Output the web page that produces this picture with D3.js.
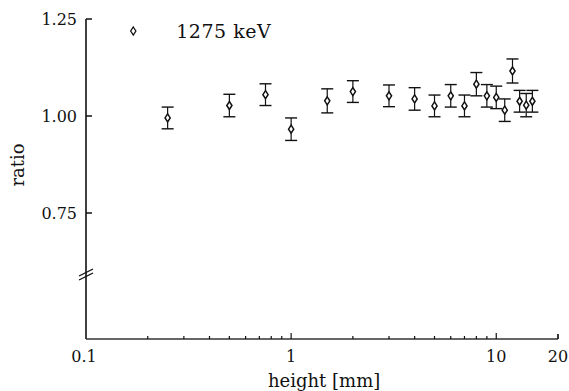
<!DOCTYPE html>
<html>
<head>
<meta charset="utf-8">
<script src="https://cdn.jsdelivr.net/npm/d3@7"></script>
<style>
  body { margin: 0; background: #fff; }
</style>
</head>
<body>
<div id="chart"></div>
<script>
// measurements at 1275 keV
var heights = [0.25, 0.5, 0.75, 1, 1.5, 2, 3, 4, 5, 6, 7, 8, 9, 10, 11, 12, 13, 14, 15];
var ratios  = [0.995, 1.027, 1.055, 0.966, 1.039, 1.063, 1.052, 1.044, 1.026, 1.052,
               1.026, 1.082, 1.052, 1.048, 1.015, 1.116, 1.038, 1.028, 1.038];
var errors  = [0.028, 0.029, 0.028, 0.029, 0.031, 0.028, 0.028, 0.029, 0.028, 0.029,
               0.028, 0.030, 0.029, 0.029, 0.029, 0.031, 0.028, 0.030, 0.028];

var yTicks = [0.75, 1.00, 1.25];
var xTickLabels = [0.1, 1, 10, 20];
var legendLabel = "1275 keV";

var W = 569, H = 391;
var margin = { top: 19, right: 11, bottom: 52, left: 86 },
    width = W - margin.left - margin.right,
    height = H - margin.top - margin.bottom;

var serif = "'DejaVu Serif', serif";

var svg = d3.select("#chart")
    .append("svg")
    .attr("width", W)
    .attr("height", H)
    .append("g")
    .attr("transform", "translate(" + margin.left + "," + margin.top + ")");

var x = d3.scaleLog()
    .domain([0.1, 20])
    .range([0, width]);

// upper part of the y axis only; the axis continues below a break
var y = d3.scaleLinear()
    .domain([0.75, 1.25])
    .range([194, 0]);

var ink = "#111";

// axis lines
svg.append("line")
    .attr("x1", 0).attr("x2", 0)
    .attr("y1", y(1.25)).attr("y2", height)
    .style("stroke", ink).style("stroke-width", 1.6);

svg.append("line")
    .attr("x1", 0).attr("x2", width)
    .attr("y1", height).attr("y2", height)
    .style("stroke", "#333").style("stroke-width", 1.6);

// break marks on y axis
var brk = height - 64;
[-3, 1].forEach(function (o) {
    svg.append("line")
        .attr("x1", -7).attr("y1", brk + o + 4)
        .attr("x2", 7).attr("y2", brk + o - 3)
        .style("stroke", ink).style("stroke-width", 1.3);
});

// y ticks
svg.selectAll(".ytick")
    .data(yTicks)
    .enter()
    .append("line")
    .attr("x1", 0).attr("x2", 6)
    .attr("y1", function (d) { return y(d); })
    .attr("y2", function (d) { return y(d); })
    .style("stroke", ink).style("stroke-width", 1.5);

svg.selectAll(".ylab")
    .data(yTicks)
    .enter()
    .append("text")
    .attr("x", -9)
    .attr("y", function (d) { return y(d); })
    .attr("dy", "0.35em")
    .attr("text-anchor", "end")
    .style("font-family", serif)
    .style("font-size", "16px")
    .style("fill", ink)
    .text(function (d) { return d3.format(".2f")(d); });

// x ticks (minor 2..9 per decade, major at decades)
var minor = [];
[0.1, 1, 10].forEach(function (dec) {
    for (var k = 2; k <= 9; k++) {
        if (dec * k <= 20) minor.push(dec * k);
    }
});
minor.push(20);

svg.selectAll(".xminor")
    .data(minor)
    .enter()
    .append("line")
    .attr("x1", function (d) { return x(d); })
    .attr("x2", function (d) { return x(d); })
    .attr("y1", height)
    .attr("y2", function (d) { return d === 20 ? height - 5 : height - 3; })
    .style("stroke", ink).style("stroke-width", 1.2);

svg.selectAll(".xmajor")
    .data([1, 10])
    .enter()
    .append("line")
    .attr("x1", function (d) { return x(d); })
    .attr("x2", function (d) { return x(d); })
    .attr("y1", height).attr("y2", height - 6)
    .style("stroke", ink).style("stroke-width", 1.2);

svg.selectAll(".xlab")
    .data(xTickLabels)
    .enter()
    .append("text")
    .attr("x", function (d) { return x(d) - (d === 0.1 ? 2 : 0); })
    .attr("y", height + 23)
    .attr("text-anchor", "middle")
    .style("font-family", serif)
    .style("font-size", "16px")
    .style("fill", ink)
    .text(function (d) { return d; });

// axis titles
svg.append("text")
    .attr("x", x(1) + 33)
    .attr("y", height + 48)
    .attr("text-anchor", "middle")
    .style("font-family", serif)
    .style("font-size", "18px")
    .style("fill", ink)
    .text("height [mm]");

svg.append("text")
    .attr("transform", "translate(" + (-62) + "," + (y(0.75) - 48) + ") rotate(-90)")
    .attr("text-anchor", "middle")
    .style("font-family", serif)
    .style("font-size", "18px")
    .style("fill", ink)
    .text("ratio");

// error bars
var cap = 6;
var eb = svg.selectAll(".eb")
    .data(heights)
    .enter()
    .append("g");

eb.append("line")
    .attr("x1", function (d) { return x(d); })
    .attr("x2", function (d) { return x(d); })
    .attr("y1", function (d, i) { return y(ratios[i] + errors[i]); })
    .attr("y2", function (d, i) { return y(ratios[i] - errors[i]); })
    .style("stroke", ink).style("stroke-width", 1.2);

[1, -1].forEach(function (s) {
    eb.append("line")
        .attr("x1", function (d) { return x(d) - cap; })
        .attr("x2", function (d) { return x(d) + cap; })
        .attr("y1", function (d, i) { return y(ratios[i] + s * errors[i]); })
        .attr("y2", function (d, i) { return y(ratios[i] + s * errors[i]); })
        .style("stroke", ink).style("stroke-width", 1.4);
});

// diamond markers
function diamond(cx, cy) {
    return "M" + cx + "," + (cy - 4) + "L" + (cx + 2.6) + "," + cy +
           "L" + cx + "," + (cy + 4) + "L" + (cx - 2.6) + "," + cy + "Z";
}

svg.selectAll(".pt")
    .data(heights)
    .enter()
    .append("path")
    .attr("d", function (d, i) { return diamond(x(d), y(ratios[i])); })
    .style("fill", "#fff")
    .style("stroke", ink)
    .style("stroke-width", 1.5);

// legend
svg.append("path")
    .attr("d", diamond(x(0.17), 12))
    .style("fill", "#fff").style("stroke", ink).style("stroke-width", 1.3);

svg.append("text")
    .attr("x", x(0.17) + 43)
    .attr("y", 19)
    .style("font-family", serif)
    .style("font-size", "19px")
    .style("letter-spacing", "0.5px")
    .style("fill", ink)
    .text(legendLabel);
</script>
</body>
</html>
